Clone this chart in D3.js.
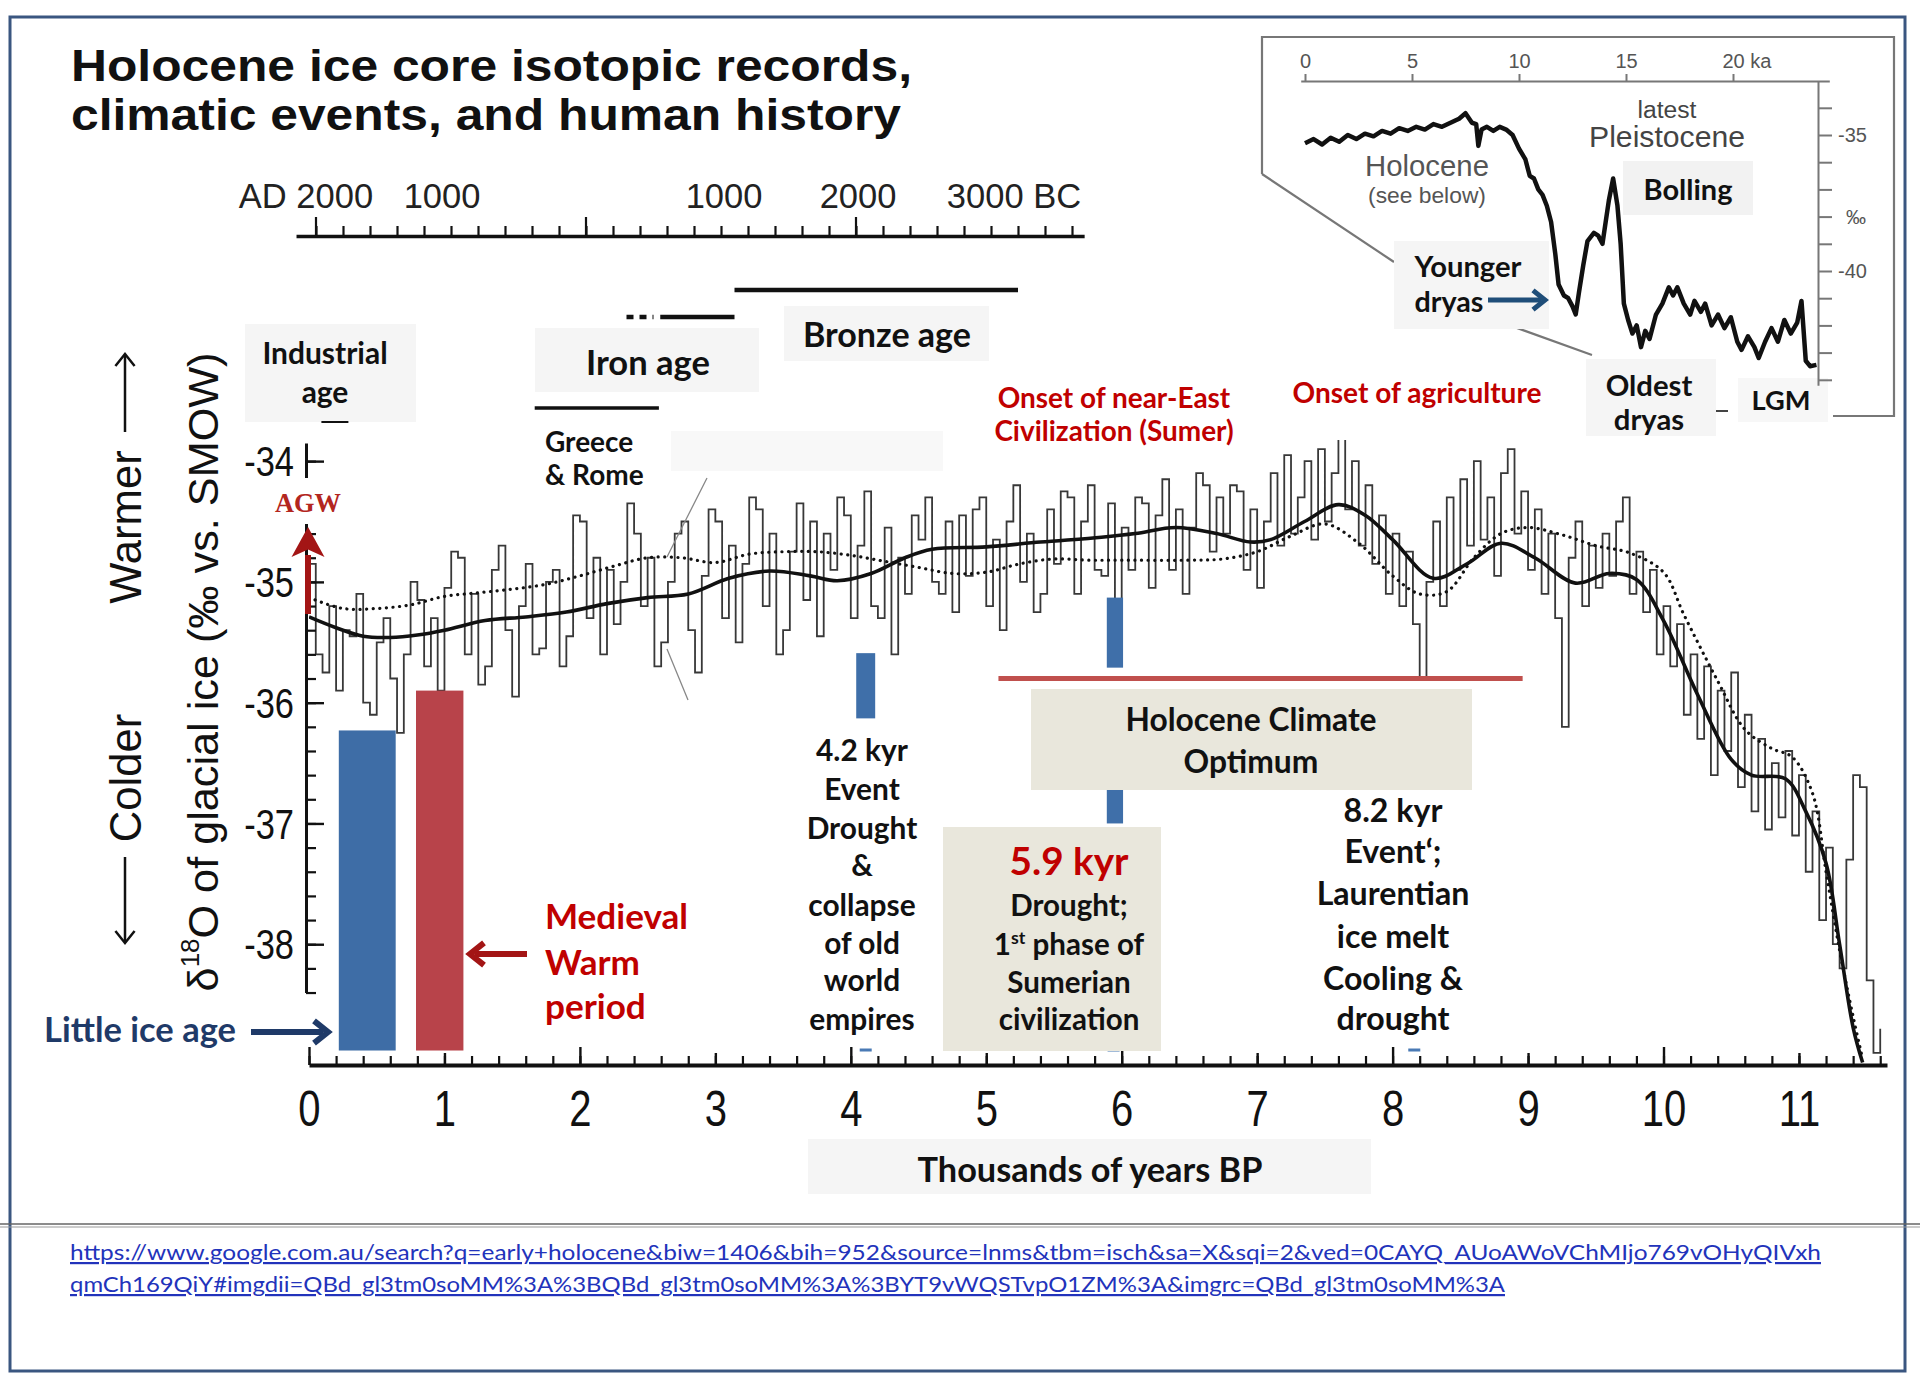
<!DOCTYPE html>
<html><head><meta charset="utf-8">
<script src="https://cdn.jsdelivr.net/npm/d3@7/dist/d3.min.js"></script>
<style>html,body{margin:0;padding:0;background:#fff}svg{display:block}</style>
</head><body>
<svg id="chart" width="1920" height="1388" xmlns="http://www.w3.org/2000/svg"></svg>
<script>
// ================= DATA =================
const titleLines = ["Holocene ice core isotopic records,", "climatic events, and human history"];

// main axis ticks
const xTickValues = [0,1,2,3,4,5,6,7,8,9,10,11];
const yTickValues = [-34,-35,-36,-37,-38];

// high-resolution isotope record (per mil), one value every 0.05 kyr from 0 BP
const recordStep = 0.05;
const recordValues = [
 -34.85,-35.6,-35.75,-35.2,-35.9,-35.4,-35.45,-35.1,-36.0,-36.1,-35.5,-35.3,-35.8,-36.25,-35.6,
 -35.0,-35.15,-35.7,-35.3,-35.9,-35.05,-34.75,-34.8,-35.6,-35.1,-35.85,-35.7,-34.9,-34.7,-35.4,
 -35.95,-35.2,-34.85,-35.6,-35.55,-35.0,-34.9,-35.7,-35.45,-34.45,-34.5,-35.3,-34.8,-35.6,-34.9,
 -35.35,-35.0,-34.35,-34.6,-35.2,-34.8,-35.7,-35.5,-35.0,-34.6,-34.5,-35.4,-35.75,-34.95,-34.4,
 -34.5,-35.3,-34.7,-35.5,-34.85,-34.3,-34.4,-35.2,-34.6,-35.6,-35.4,-34.75,-34.35,-35.15,-34.5,
 -35.45,-34.6,-34.9,-34.3,-34.45,-35.3,-34.7,-34.25,-35.2,-35.3,-34.55,-35.6,-34.8,-35.1,-34.45,
 -34.65,-34.3,-35.0,-35.1,-34.5,-35.25,-34.45,-34.95,-34.4,-34.3,-35.2,-34.65,-35.4,-34.5,-34.2,
 -35.0,-34.6,-35.25,-35.1,-34.4,-34.85,-34.25,-34.3,-35.1,-34.5,-34.2,-34.9,-34.95,-34.35,-35.2,
 -34.55,-34.9,-34.3,-34.35,-35.05,-34.45,-34.15,-34.9,-34.4,-35.1,-34.55,-34.1,-34.2,-34.75,-34.3,
 -34.6,-34.2,-34.25,-34.9,-34.4,-35.05,-34.5,-34.1,-34.7,-33.95,-34.6,-34.3,-34.0,-34.65,-33.9,
 -34.5,-34.1,-33.65,-34.4,-34.0,-34.7,-34.2,-34.85,-34.45,-35.1,-34.6,-35.2,-34.75,-35.35,-35.8,
 -35.0,-34.5,-35.2,-34.3,-34.9,-34.15,-34.7,-34.0,-34.65,-34.3,-34.95,-34.1,-33.9,-34.6,-34.25,
 -34.9,-34.4,-35.1,-34.6,-35.3,-36.2,-34.8,-34.5,-35.2,-34.7,-35.05,-34.6,-34.95,-34.5,-34.3,
 -35.1,-34.75,-35.25,-34.9,-35.6,-35.2,-35.7,-35.35,-36.1,-35.6,-36.3,-35.7,-36.6,-35.9,-36.4,
 -35.75,-36.7,-36.1,-36.9,-36.3,-37.05,-36.5,-36.95,-36.4,-37.1,-36.6,-37.4,-36.9,-37.8,-37.2,
 -38.0,-38.2,-37.3,-36.6,-36.7,-38.3,-38.9,-38.7
];

// smoothed record (solid line)
const smoothAges = [0,0.2,0.4,0.6,0.8,1.0,1.3,1.6,1.9,2.2,2.5,2.8,3.1,3.4,3.7,3.9,4.15,4.4,4.6,5.0,5.4,5.85,6.1,6.4,6.7,6.95,7.1,7.35,7.6,7.8,8.0,8.3,8.55,8.8,9.05,9.35,9.6,9.8,10.0,10.25,10.5,10.65,10.9,11.05,11.2,11.3,11.4,11.47];
const smoothValues = [-35.29,-35.38,-35.45,-35.46,-35.44,-35.40,-35.32,-35.29,-35.25,-35.18,-35.13,-35.10,-34.97,-34.91,-34.95,-34.99,-34.93,-34.80,-34.73,-34.71,-34.67,-34.63,-34.60,-34.55,-34.60,-34.67,-34.65,-34.50,-34.36,-34.45,-34.65,-34.97,-34.85,-34.68,-34.80,-35.01,-34.93,-34.98,-35.32,-35.93,-36.47,-36.6,-36.63,-36.9,-37.33,-38.0,-38.69,-38.98];

// second smoothed record (dotted line)
const dottedAges = [0,0.25,0.5,0.75,1.0,1.25,1.5,1.75,2.0,2.25,2.5,2.75,3.0,3.25,3.5,3.75,4.0,4.25,4.5,4.75,5.0,5.25,5.5,5.75,6.0,6.5,6.75,7.0,7.25,7.5,7.75,8.0,8.2,8.4,8.6,8.8,9.0,9.25,9.5,9.75,10.0,10.15,10.4,10.6,10.8,10.95,11.1,11.2,11.3,11.4,11.47];
const dottedValues = [-35.13,-35.22,-35.22,-35.19,-35.12,-35.09,-35.06,-35.02,-34.95,-34.87,-34.80,-34.80,-34.84,-34.77,-34.75,-34.75,-34.78,-34.83,-34.88,-34.93,-34.92,-34.85,-34.81,-34.82,-34.82,-34.82,-34.81,-34.75,-34.62,-34.52,-34.68,-34.95,-35.10,-35.08,-34.80,-34.60,-34.55,-34.61,-34.70,-34.76,-34.92,-35.27,-35.82,-36.22,-36.38,-36.45,-36.75,-37.4,-38.05,-38.6,-38.95];

// calendar timeline (years AD positive, BC negative)
const calendarYears = [2000, 1000, -1000, -2000, -3000];
const calendarLabels = ["AD 2000", "1000", "1000", "2000", "3000 BC"];
const calendarMajor = [2000, 0, -2000];

// cultural periods on the calendar timeline
const periodNames = ["Bronze age", "Iron age", "Iron age (onset)", "Greece & Rome", "Industrial age"];
const periodYoung = [-1100, -550, -300, 380, 1960];
const periodOld   = [-3200, -1100, -500, -540, 1760];

// climate periods (bars, kyr BP and per mil)
const climateNames  = ["Little ice age", "Medieval Warm period"];
const climateFrom   = [0.22, 0.79];
const climateTo     = [0.64, 1.14];
const climateTop    = [-36.23, -35.90];
const climateBottom = [-38.88, -38.88];

// abrupt events (bars)
const eventNames  = ["4.2 kyr event", "5.9 kyr event", "5.9 kyr event"];
const eventFrom   = [4.04, 5.89, 5.89];
const eventTo     = [4.18, 6.01, 6.01];
const eventTop    = [-35.59, -35.13, -36.71];
const eventBottom = [-36.13, -35.71, -37.00];
const eventMarks  = [4.11, 5.94, 8.16];

// Holocene Climate Optimum span
const hcoFrom = 5.09, hcoTo = 8.96, hcoLevel = -35.80;

// inset: longer record (ka, per mil)
const insetAges = [0,0.4,0.8,1.2,1.6,2.0,2.4,2.8,3.2,3.6,4.0,4.4,4.8,5.2,5.6,6.0,6.4,6.8,7.2,7.5,7.8,8.0,8.1,8.25,8.5,8.8,9.1,9.4,9.7,10.0,10.3,10.5,10.7,10.9,11.1,11.3,11.5,11.7,11.85,12.1,12.3,12.5,12.65,12.8,13.0,13.2,13.5,13.7,13.9,14.05,14.2,14.4,14.6,14.75,14.9,15.1,15.3,15.5,15.7,15.9,16.1,16.4,16.7,17.0,17.2,17.4,17.7,18.0,18.2,18.5,18.7,19.0,19.3,19.6,19.9,20.2,20.4,20.7,21.0,21.2,21.5,21.8,22.1,22.4,22.7,23.0,23.2,23.4,23.6,23.9];
const insetValues = [-35.3,-35.15,-35.35,-35.1,-35.25,-35.0,-35.15,-34.95,-35.05,-34.85,-34.95,-34.75,-34.85,-34.7,-34.8,-34.6,-34.7,-34.55,-34.4,-34.2,-34.55,-34.6,-35.4,-34.8,-34.7,-34.85,-34.7,-34.8,-35.0,-35.5,-35.9,-36.5,-36.6,-37.0,-37.2,-37.6,-38.2,-39.4,-40.5,-40.9,-41.0,-41.3,-41.6,-40.8,-39.8,-38.9,-38.6,-38.7,-39.0,-38.2,-37.4,-36.6,-37.6,-39.0,-41.2,-41.8,-42.3,-42.0,-42.8,-42.2,-42.5,-41.6,-41.2,-40.6,-40.9,-40.6,-41.2,-41.6,-41.1,-41.5,-41.2,-42.0,-41.6,-42.1,-41.7,-42.6,-42.9,-42.4,-42.8,-43.2,-42.6,-42.1,-42.6,-41.8,-42.3,-41.9,-41.1,-43.3,-43.5,-43.45];
const insetXTicks = [0, 5, 10, 15, 20];
const insetYTicks = [-34,-35,-36,-37,-38,-39,-40,-41,-42,-43,-44];
const insetYLabels = [-35, -40];

const urlLines = [
 "https://www.google.com.au/search?q=early+holocene&biw=1406&bih=952&source=lnms&tbm=isch&sa=X&sqi=2&ved=0CAYQ_AUoAWoVChMIjo769vOHyQIVxh",
 "qmCh169QiY#imgdii=QBd_gl3tm0soMM%3A%3BQBd_gl3tm0soMM%3A%3BYT9vWQSTvpO1ZM%3A&imgrc=QBd_gl3tm0soMM%3A"
];

// ================= DRAWING =================
const CAL = "Lato, 'Open Sans', 'Noto Sans', sans-serif";
const SANS = "'Liberation Sans', Arial, Helvetica, sans-serif";
const SERIF = "'Liberation Serif', 'Times New Roman', serif";

const svg = d3.select("#chart");
svg.append("rect").attr("width",1920).attr("height",1388).attr("fill","#fff");

const x = d3.scaleLinear().domain([0, 11.65]).range([309, 1887]);
const y = d3.scaleLinear().domain([-39, -33.85]).range([1065, 443]);
const cal = d3.scaleLinear().domain([2000, -2000]).range([316, 856]);
const ix = d3.scaleLinear().domain([0, 20]).range([1305, 1733]);
const iy = d3.scaleLinear().domain([-35, -40]).range([135, 271]);

function fitGroup(texts, widths) {
  let sL = 0, sW = 0;
  texts.forEach((t, i) => { sL += t.node().getComputedTextLength(); sW += widths[i]; });
  if (sL > 0) {
    const k = sW / sL;
    texts.forEach(t => t.attr("font-size", parseFloat(t.attr("font-size")) * k));
  }
}
function textLine(parent, s, X, Y, o) {
  const t = parent.append("text").attr("x", X).attr("y", Y)
    .attr("text-anchor", o.anchor || "middle")
    .attr("font-family", o.font || CAL)
    .attr("font-weight", o.weight || "bold")
    .attr("font-size", o.size || 28)
    .attr("fill", o.color || "#111");
  if (s !== null) t.text(s);
  return t;
}
function block(lines, X, Ys, widths, o) {
  const ts = lines.map((s, i) => textLine(svg, s, X, Ys[i], o));
  if (widths) fitGroup(ts, widths);
  return ts;
}
function rectBox(x0, y0, w, h, fill) {
  svg.append("rect").attr("x", x0).attr("y", y0).attr("width", w).attr("height", h).attr("fill", fill);
}
function arrow(x1, y1, x2, y2, color, width, head, filled, spread) {
  const dx = x2 - x1, dy = y2 - y1, L = Math.hypot(dx, dy);
  const ux = dx / L, uy = dy / L, px = -uy, py = ux;
  const bx = x2 - ux * head, by = y2 - uy * head;
  const sp = spread || 0.55;
  if (filled) {
    svg.append("line").attr("x1", x1).attr("y1", y1).attr("x2", bx + ux*2).attr("y2", by + uy*2)
      .attr("stroke", color).attr("stroke-width", width);
    svg.append("path").attr("d", `M${x2},${y2}L${bx + px*head*sp},${by + py*head*sp}L${bx + ux*head*0.25},${by + uy*head*0.25}L${bx - px*head*sp},${by - py*head*sp}Z`)
      .attr("fill", color);
  } else {
    svg.append("line").attr("x1", x1).attr("y1", y1).attr("x2", x2 - ux*width*0.8).attr("y2", y2 - uy*width*0.8)
      .attr("stroke", color).attr("stroke-width", width);
    svg.append("path").attr("d", `M${bx + px*head*0.8},${by + py*head*0.8}L${x2},${y2}L${bx - px*head*0.8},${by - py*head*0.8}`)
      .attr("fill", "none").attr("stroke", color).attr("stroke-width", width).attr("stroke-linejoin", "miter");
  }
}

// ---- outer frame and separator ----
svg.append("rect").attr("x", 10).attr("y", 17).attr("width", 1895).attr("height", 1354)
  .attr("fill", "none").attr("stroke", "#3a5680").attr("stroke-width", 3);
svg.append("line").attr("x1", 0).attr("x2", 1920).attr("y1", 1224).attr("y2", 1224).attr("stroke", "#666").attr("stroke-width", 1.5);
svg.append("line").attr("x1", 0).attr("x2", 1920).attr("y1", 1227).attr("y2", 1227).attr("stroke", "#999").attr("stroke-width", 1);

// ---- title ----
titleLines.forEach((s, i) => {
  svg.append("text").attr("x", 71).attr("y", [81, 130][i])
    .attr("font-family", SANS).attr("font-weight", "bold").attr("font-size", 45).attr("fill", "#111")
    .attr("textLength", [841, 830][i]).attr("lengthAdjust", "spacingAndGlyphs").text(s);
});

// ---- background label boxes ----
rectBox(245, 324, 171, 98, "#f5f5f5");
rectBox(535, 328, 224, 64, "#f5f5f5");
rectBox(784, 306, 205, 55, "#f5f5f5");
rectBox(671, 431, 272, 40, "#f8f8f8");
rectBox(808, 1139, 563, 55, "#f5f5f5");

// ---- calendar timeline ----
const calAx = cal.copy().domain([2148, -3690]).range([cal(2148), cal(-3690)]);
const gCal = svg.append("g").attr("transform", "translate(0,236)");
gCal.call(d3.axisTop(calAx).tickValues(d3.range(2000, -3700, -200)).tickSizeInner(10).tickSizeOuter(0).tickFormat(""));
gCal.select(".domain").attr("stroke", "#111").attr("stroke-width", 3.5);
gCal.selectAll(".tick line").attr("stroke", "#111").attr("stroke-width", 2.2);
gCal.selectAll(".major").data(calendarMajor).join("line")
  .attr("x1", d => cal(d)).attr("x2", d => cal(d)).attr("y1", 0).attr("y2", -19)
  .attr("stroke", "#111").attr("stroke-width", 2.2);
const calDx = [-10, -9, 3, 2, 23];
const calTexts = calendarLabels.map((s, i) => textLine(svg, s, cal(calendarYears[i]) + calDx[i], 208,
  {font: SANS, weight: "normal", size: 33, color: "#222"}));
fitGroup(calTexts, [135, 76, 76, 76, 136]);

// ---- period bars ----
const periodWidth = [4.5, 4.5, 4.5, 3.5, 2];
const periodY = [290, 317, 317, 408, 422];
svg.selectAll(".period").data(periodNames).join("line")
  .attr("x1", (d, i) => cal(periodYoung[i])).attr("x2", (d, i) => cal(periodOld[i]))
  .attr("y1", (d, i) => periodY[i]).attr("y2", (d, i) => periodY[i])
  .attr("stroke", "#111").attr("stroke-width", (d, i) => periodWidth[i])
  .attr("stroke-dasharray", (d, i) => i === 2 ? "7,6" : null);

// ---- plot clip ----
svg.append("clipPath").attr("id", "plotclip").append("rect").attr("x", 309).attr("y", 440).attr("width", 1580).attr("height", 625);
const gPlot = svg.append("g").attr("clip-path", "url(#plotclip)");

// pointer lines (Greece & Rome)
svg.append("path").attr("d", "M707,478L667,557M667,649L688,700").attr("stroke", "#888").attr("stroke-width", 1.3).attr("fill", "none");

// noisy record
const recPts = recordValues.map((v, i) => [i * recordStep, v]);
gPlot.append("path").datum(recPts)
  .attr("d", d3.line().x(d => x(d[0])).y(d => y(d[1])).curve(d3.curveStepAfter))
  .attr("fill", "none").attr("stroke", "#383838").attr("stroke-width", 1.8);

// dotted smoothed record
gPlot.append("path").datum(dottedAges.map((a, i) => [a, dottedValues[i]]))
  .attr("d", d3.line().x(d => x(d[0])).y(d => y(d[1])).curve(d3.curveCatmullRom))
  .attr("fill", "none").attr("stroke", "#111").attr("stroke-width", 3.2)
  .attr("stroke-dasharray", "0.1,6.5").attr("stroke-linecap", "round");

// solid smoothed record
gPlot.append("path").datum(smoothAges.map((a, i) => [a, smoothValues[i]]))
  .attr("d", d3.line().x(d => x(d[0])).y(d => y(d[1])).curve(d3.curveCatmullRom))
  .attr("fill", "none").attr("stroke", "#111").attr("stroke-width", 3.6);

// ---- axes ----
const gx = svg.append("g").attr("transform", "translate(0,1065)");
gx.call(d3.axisBottom(x).tickValues(d3.range(0, 59).map(i => i / 5)).tickSizeInner(-9).tickSizeOuter(0).tickFormat(""));
gx.select(".domain").attr("stroke", "#111").attr("stroke-width", 4);
gx.selectAll(".tick line").attr("stroke", "#111").attr("stroke-width", 2.2);
const gx2 = svg.append("g").attr("transform", "translate(0,1065)");
gx2.call(d3.axisBottom(x).tickValues(xTickValues).tickSizeInner(-16).tickSizeOuter(0).tickPadding(10).tickFormat(d => String(d)));
gx2.select(".domain").remove();
gx2.selectAll(".tick line").attr("stroke", "#111").attr("stroke-width", 2.4).attr("y2", d => d % 2 === 0 ? -18 : -12);
gx2.selectAll(".tick text").attr("y", 61).attr("dy", null).attr("font-family", SANS).attr("font-size", 50)
  .attr("fill", "#111").attr("transform", "scale(0.8,1)");

const yAx = y.copy().domain([-38.4, -33.85]).range([y(-38.4), y(-33.85)]);
const gy = svg.append("g").attr("transform", "translate(306,0)");
gy.call(d3.axisLeft(yAx).tickValues(d3.range(0, 23).map(i => -38.4 + i * 0.2)).tickSizeInner(-10).tickSizeOuter(0).tickFormat(""));
gy.select(".domain").attr("stroke", "#111").attr("stroke-width", 3);
gy.selectAll(".tick line").attr("stroke", "#111").attr("stroke-width", 2.2);
const gy2 = svg.append("g").attr("transform", "translate(306,0)");
gy2.call(d3.axisLeft(yAx).tickValues(yTickValues).tickSizeInner(-18).tickSizeOuter(0).tickPadding(10).tickFormat(d => String(d)));
gy2.select(".domain").remove();
gy2.selectAll(".tick line").attr("stroke", "#111").attr("stroke-width", 2.4);
gy2.selectAll(".tick text").attr("font-family", SANS).attr("font-size", 42).attr("fill", "#111").attr("dy", "0.35em")
  .attr("x", -12 / 0.82).attr("transform", "scale(0.82,1)");

// ---- climate bars ----
const climateColors = ["#3e6da6", "#b8434a"];
svg.selectAll(".cbar").data(climateNames).join("rect")
  .attr("x", (d, i) => x(climateFrom[i])).attr("width", (d, i) => x(climateTo[i]) - x(climateFrom[i]))
  .attr("y", (d, i) => y(climateTop[i])).attr("height", (d, i) => y(climateBottom[i]) - y(climateTop[i]))
  .attr("fill", (d, i) => climateColors[i]);

// HCO line
svg.append("line").attr("x1", x(hcoFrom)).attr("x2", x(hcoTo)).attr("y1", y(hcoLevel)).attr("y2", y(hcoLevel))
  .attr("stroke", "#c0504d").attr("stroke-width", 5);

// event bars
svg.selectAll(".ebar").data(eventNames).join("rect")
  .attr("x", (d, i) => x(eventFrom[i])).attr("width", (d, i) => x(eventTo[i]) - x(eventFrom[i]))
  .attr("y", (d, i) => y(eventTop[i])).attr("height", (d, i) => y(eventBottom[i]) - y(eventTop[i]))
  .attr("fill", "#3f6fa9");
svg.selectAll(".emark").data(eventMarks).join("rect")
  .attr("x", d => x(d) - 6).attr("width", 12).attr("y", y(-38.88) - 2).attr("height", 3).attr("fill", "#4a7ab5");

// ---- annotation boxes ----
rectBox(1031, 689, 441, 101, "#e9e7dc");
rectBox(943, 827, 218, 224, "#e9e7dc");

// ---- texts ----
block(["Industrial", "age"], 325, [364, 403], [125, 47], {size: 27});
block(["Iron age"], 648, [375], [124], {size: 32});
block(["Bronze age"], 887, [347], [168], {size: 32});
block(["Greece", "& Rome"], 545, [452, 485], [87, 100], {size: 25, anchor: "start"});
block(["Onset of near-East", "Civilization (Sumer)"], 1114, [408, 441], [230, 242], {size: 27, color: "#c00000"});
block(["Onset of agriculture"], 1417, [403], [249], {size: 27, color: "#c00000"});
block(["4.2 kyr", "Event", "Drought", "&", "collapse", "of old", "world", "empires"], 862,
  [761, 800, 839, 876, 916, 954, 991, 1030], [92, 73, 108, 22, 107, 77, 78, 108], {size: 28});
block(["5.9 kyr"], 1069, [875], [119], {size: 36, color: "#c00000"});
const sum = block(["Drought;", null, "Sumerian", "civilization"], 1069, [916, 955, 993, 1030], null, {size: 28});
sum[1].append("tspan").text("1");
sum[1].append("tspan").attr("font-size", "0.6em").attr("dy", "-0.6em").text("st");
sum[1].append("tspan").attr("dy", "0.36em").text(" phase of");
fitGroup(sum, [116, 152, 126, 138]);
block(["Holocene Climate", "Optimum"], 1251, [731, 773], [251, 135], {size: 28});
block(["8.2 kyr", "Event\u2018;", "Laurentian", "ice melt", "Cooling &", "drought"], 1393,
  [822, 863, 905, 948, 990, 1030], [98, 99, 152, 113, 138, 114], {size: 28});
block(["Little ice age"], 140, [1042], [192], {size: 28, color: "#1f3a68"});
block(["Medieval", "Warm", "period"], 545, [929, 975, 1019], [143, 94, 102], {size: 32, anchor: "start", color: "#c00000"});
block(["Thousands of years BP"], 1090, [1182], [345], {size: 30});

// AGW label (covers the axis line) and arrow
rectBox(280, 478, 60, 46, "#fff");
block(["AGW"], 308, [512], [66], {size: 26, font: SERIF, color: "#b3261e"});
arrow(308, 614, 308, 527, "#a31515", 6, 30, true, 0.55);
arrow(251, 1032, 328, 1032, "#1f3a68", 6, 14, false);
arrow(527, 954, 470, 954, "#a31515", 6, 14, false);

// y-axis titles
const yt = svg.append("text").attr("transform", "translate(218,672) rotate(-90)").attr("text-anchor", "middle")
  .attr("font-family", SANS).attr("font-size", 43).attr("fill", "#111");
yt.append("tspan").text("\u03b4");
yt.append("tspan").attr("font-size", "0.6em").attr("dy", "-0.75em").text("18");
yt.append("tspan").attr("dy", "0.45em").text("O of glacial ice (\u2030 vs. SMOW)");
fitGroup([yt], [639]);
const wt = svg.append("text").attr("transform", "translate(141,527) rotate(-90)").attr("text-anchor", "middle")
  .attr("font-family", SANS).attr("font-size", 43).attr("fill", "#111").text("Warmer");
const ct = svg.append("text").attr("transform", "translate(141,778) rotate(-90)").attr("text-anchor", "middle")
  .attr("font-family", SANS).attr("font-size", 43).attr("fill", "#111").text("Colder");
fitGroup([wt, ct], [147, 135]);
arrow(125, 432, 125, 354, "#111", 2.5, 12, false);
arrow(125, 857, 125, 943, "#111", 2.5, 12, false);

// ---- inset ----
svg.append("path").attr("d", "M1262,174L1262,37L1894,37L1894,416L1833,416M1262,174L1394,262M1506,324L1592,355")
  .attr("fill", "none").attr("stroke", "#777").attr("stroke-width", 2.2);
rectBox(1623, 161, 130, 54, "#f2f2f2");
rectBox(1394, 241, 155, 88, "#f5f5f5");
rectBox(1586, 359, 130, 77, "#f5f5f5");
rectBox(1738, 378, 90, 44, "#f7f7f7");

const ixAx = ix.copy().domain([-0.2, 24.5]).range([ix(-0.2), ix(24.5)]);
const gix = svg.append("g").attr("transform", "translate(0,81)");
gix.call(d3.axisTop(ixAx).tickValues(insetXTicks).tickSizeInner(7).tickSizeOuter(0).tickPadding(6).tickFormat(d => d === 20 ? "20 ka" : String(d)));
gix.select(".domain").attr("stroke", "#777").attr("stroke-width", 2);
gix.selectAll(".tick line").attr("stroke", "#777").attr("stroke-width", 2);
gix.selectAll(".tick text").attr("font-family", SANS).attr("font-size", 20).attr("fill", "#555");
gix.selectAll(".tick text").filter(d => d === 20).attr("text-anchor", "start").attr("dx", -11);

const iyAx = iy.copy().domain([-33.0, -44.2]).range([iy(-33.0), iy(-44.2)]);
const giy = svg.append("g").attr("transform", "translate(1818,0)");
giy.call(d3.axisRight(iyAx).tickValues(insetYTicks).tickSizeInner(14).tickSizeOuter(0).tickPadding(6)
  .tickFormat(d => insetYLabels.includes(d) ? String(d) : ""));
giy.select(".domain").attr("stroke", "#777").attr("stroke-width", 2);
giy.selectAll(".tick line").attr("stroke", "#777").attr("stroke-width", 2);
giy.selectAll(".tick text").attr("font-family", SANS).attr("font-size", 20).attr("fill", "#555");
textLine(svg, "\u2030", 1856, iy(-38) + 7, {font: SANS, weight: "normal", size: 20, color: "#555"});

svg.append("path").datum(insetAges.map((a, i) => [a, insetValues[i]]))
  .attr("d", d3.line().x(d => ix(d[0])).y(d => iy(d[1])))
  .attr("fill", "none").attr("stroke", "#111").attr("stroke-width", 4.5).attr("stroke-linejoin", "round");

block(["latest"], 1667, [118], [59], {font: SANS, weight: "normal", size: 20, color: "#444"});
block(["Pleistocene"], 1667, [147], [156], {font: SANS, weight: "normal", size: 24, color: "#444"});
block(["Holocene"], 1427, [176], [124], {font: SANS, weight: "normal", size: 24, color: "#555"});
block(["(see below)"], 1427, [203], [118], {font: SANS, weight: "normal", size: 18, color: "#555"});
block(["Bolling"], 1688, [200], [89], {size: 27});
block(["Younger"], 1468, [277], [107], {size: 27});
block(["dryas"], 1449, [312], [69], {size: 27});
block(["Oldest", "dryas"], 1649, [396, 430], [86, 71], {size: 27});
block(["LGM"], 1781, [410], [59], {size: 27});
svg.append("line").attr("x1", 1716).attr("x2", 1728).attr("y1", 411).attr("y2", 411).attr("stroke", "#444").attr("stroke-width", 2);
arrow(1488, 300, 1545, 300, "#1f4e79", 5, 12, false);

// ---- source URL ----
urlLines.forEach((s, i) => {
  svg.append("text").attr("x", 70).attr("y", [1260, 1292][i])
    .attr("font-family", CAL).attr("font-size", 22).attr("fill", "#2233bb")
    .attr("text-decoration", "underline")
    .attr("textLength", [1751, 1435][i]).attr("lengthAdjust", "spacingAndGlyphs")
    .text(s);
});
</script>
</body></html>
